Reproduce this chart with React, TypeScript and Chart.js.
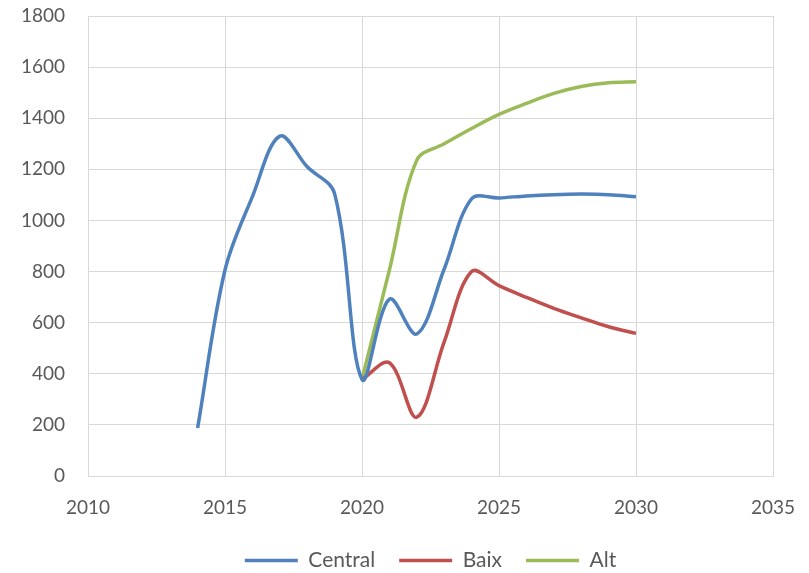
import React, { useEffect, useRef } from "react";
import { Chart, registerables } from "chart.js";

Chart.register(...registerables);

const centralYears = [2014, 2015, 2016, 2017, 2018, 2019, 2020, 2021, 2022, 2023, 2024, 2025, 2026, 2027, 2028, 2029, 2030];
const centralValues = [188, 806, 1093, 1330, 1210, 1105, 378, 692, 556, 810, 1085, 1088, 1096, 1101, 1103, 1101, 1093];

const baixYears = [2020, 2021, 2022, 2023, 2024, 2025, 2026, 2027, 2028, 2029, 2030];
const baixValues = [378, 443, 230, 525, 800, 745, 699, 656, 619, 584, 558];

const altYears = [2020, 2021, 2022, 2023, 2024, 2025, 2026, 2027, 2028, 2029, 2030];
const altValues = [378, 806, 1236, 1300, 1360, 1415, 1458, 1497, 1524, 1539, 1543];

const xMin = 2010;
const xMax = 2035;
const xStep = 5;
const yMin = 0;
const yMax = 1800;
const yStep = 200;

const FONT = "Lato, 'Open Sans', sans-serif";
const TEXT = "#595959";
const GRID = "#d9d9d9";

const toPoints = (xs: number[], ys: number[]) => xs.map((x, i) => ({ x, y: ys[i] }));

const zeroPad = (s: any) => {
  s.paddingTop = 0;
  s.paddingBottom = 0;
  s.paddingLeft = 0;
  s.paddingRight = 0;
};

export default function App() {
  const ref = useRef<HTMLCanvasElement | null>(null);

  useEffect(() => {
    if (!ref.current) return;
    const mk = (label: string, xs: number[], ys: number[], color: string) => ({
      label,
      data: toPoints(xs, ys),
      borderColor: color,
      backgroundColor: color,
      borderWidth: 3.5,
      pointRadius: 0,
      pointHoverRadius: 0,
      tension: 0.35,
      fill: false,
      pointStyle: "line" as const,
    });
    const chart = new Chart(ref.current, {
      type: "line",
      data: {
        datasets: [
          mk("Central", centralYears, centralValues, "#4F81BD"),
          mk("Baix", baixYears, baixValues, "#C0504D"),
          mk("Alt", altYears, altValues, "#9BBB59"),
        ],
      },
      options: {
        animation: false,
        responsive: false,
        devicePixelRatio: 1,
        layout: { autoPadding: false, padding: { left: 0, right: 36, top: 16, bottom: -8 } },
        plugins: {
          tooltip: { enabled: false },
          legend: {
            position: "bottom",
            fullSize: false,
            labels: {
              usePointStyle: true,
              pointStyle: "line",
              pointStyleWidth: 53,
              boxHeight: 20,
              color: TEXT,
              font: { family: FONT, size: 21 },
              padding: 24,
            },
          },
        },
        scales: {
          x: {
            type: "linear",
            min: xMin,
            max: xMax,
            ticks: {
              stepSize: xStep,
              color: TEXT,
              font: { family: FONT, size: 19 },
              padding: 20,
              callback: (v: any) => String(v),
            },
            grid: { color: GRID, lineWidth: 1, drawTicks: false },
            border: { color: GRID, width: 1 },
            afterFit: (s: any) => {
              s.height = 50;
              zeroPad(s);
            },
          },
          y: {
            min: yMin,
            max: yMax,
            ticks: {
              stepSize: yStep,
              color: TEXT,
              font: { family: FONT, size: 19 },
              padding: 23,
              callback: (v: any) => String(v),
            },
            grid: { color: GRID, lineWidth: 1, drawTicks: false },
            border: { color: GRID, width: 1 },
            afterFit: (s: any) => {
              s.width = 88;
              zeroPad(s);
            },
          },
        },
      },
    });
    return () => chart.destroy();
  }, []);

  return (
    <div style={{ position: "fixed", left: 0, top: 0, width: 809, height: 573, background: "#fff" }}>
      <canvas ref={ref} width={809} height={573} style={{ display: "block" }} />
    </div>
  );
}
